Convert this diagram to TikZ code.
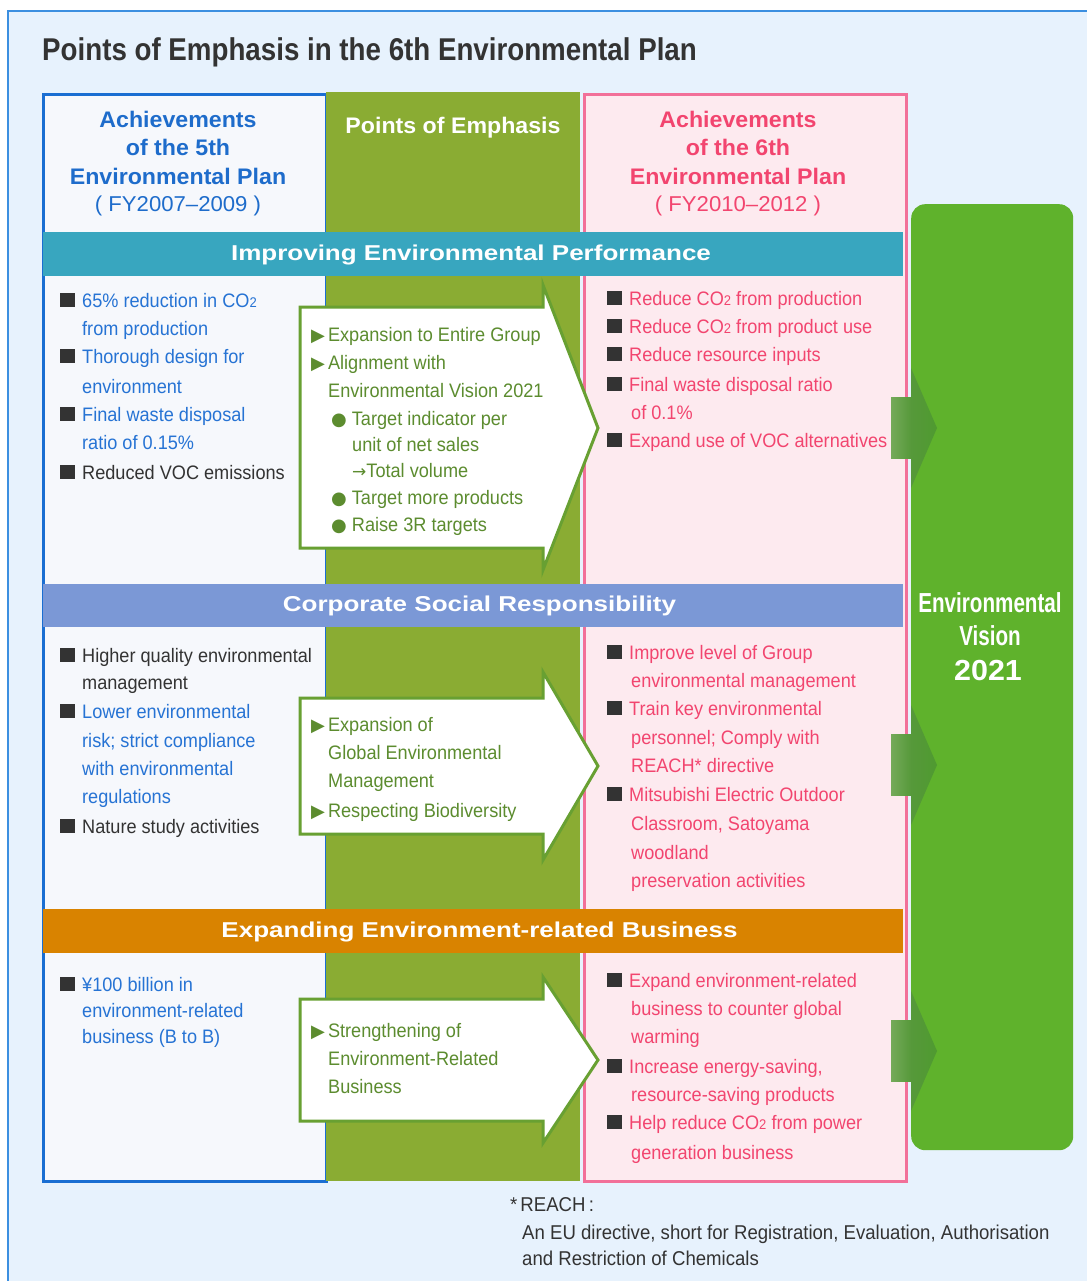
\documentclass[tikz,border=0pt]{standalone}
\usepackage{fontspec}
\setmainfont{Liberation Sans}
\newfontfamily\bod[FakeStretch=0.93]{Liberation Sans}
\newfontfamily\ttl[FakeStretch=0.88]{Liberation Sans}
\newfontfamily\hdf[FakeStretch=1.03]{Liberation Sans}
\newfontfamily\wde[FakeStretch=1.21]{Liberation Sans}
\newfontfamily\vis[FakeStretch=0.75]{Liberation Sans}
\newfontfamily\yr[FakeStretch=1.05]{Liberation Sans}
\newfontfamily\symf{DejaVu Sans}
\definecolor{bgblue}{HTML}{E7F2FD}
\definecolor{frameblue}{HTML}{3C8FE0}
\definecolor{blueB}{HTML}{1A6ED2}
\definecolor{blueT}{HTML}{2673D4}
\definecolor{blueH}{HTML}{1E6CCB}
\definecolor{leftF}{HTML}{F6F8FC}
\definecolor{midG}{HTML}{8AAC33}
\definecolor{pinkB}{HTML}{F27099}
\definecolor{pinkF}{HTML}{FDEAEF}
\definecolor{pinkT}{HTML}{F2456F}
\definecolor{tealB}{HTML}{38A6BF}
\definecolor{csrB}{HTML}{7B98D6}
\definecolor{orngB}{HTML}{D98300}
\definecolor{bigG}{HTML}{5FB22C}
\definecolor{arrB}{HTML}{68A032}
\definecolor{arrT}{HTML}{5C8C2F}
\definecolor{connL}{HTML}{74AA5A}
\definecolor{connR}{HTML}{56993A}
\definecolor{connH}{HTML}{4F9A30}
\definecolor{dark}{HTML}{333333}
\newcommand\sq{{\color{dark}\rule{14.5pt}{14.5pt}}\hspace{7.5pt}}
\newcommand\tri{{\symf\fontsize{18}{18}\selectfont\color{arrT}▶}\hspace{3pt}}
\newcommand\bul{{\symf\fontsize{18}{18}\selectfont ●}\hspace{5pt}}
\newcommand\two{{\fontsize{14}{14}\selectfont 2}}
\newcommand\rarr{{\symf\fontsize{17}{17}\selectfont →}}
\begin{document}
\begin{tikzpicture}[x=1pt,y=-1pt,
  txt/.style={anchor=base west, inner sep=0, font=\bod\fontsize{19.5}{19.5}\selectfont},
  hdr/.style={anchor=base, inner sep=0, font=\hdf\bfseries\fontsize{22.5}{22.5}\selectfont},
  hdrn/.style={anchor=base, inner sep=0, font=\hdf\fontsize{21.5}{21.5}\selectfont},
  band/.style={inner sep=0, font=\wde\bfseries\fontsize{21.5}{21.5}\selectfont, text=white},
  bigarrow/.style={draw=arrB, line width=3pt, fill=white, line join=miter},
  col/.style={anchor=north west, inner sep=0, line width=3pt}]
\useasboundingbox (0,0) rectangle (1086,1281);
\fill[white] (0,0) rectangle (1086,1281);
\draw[frameblue, line width=1.2pt, fill=bgblue] (8,11) rectangle (1095,1295);
% title
\node[anchor=base west, inner sep=0, font=\ttl\bfseries\fontsize{31.5}{31.5}\selectfont, text=dark] (title) at (42,61) {Points of Emphasis in the 6th Environmental Plan};
% columns
\node[col, draw=blueB, fill=leftF, minimum width=283pt, minimum height=1086pt] (c5) at (41.5,93.5) {};
\node[col, fill=midG, line width=0pt, minimum width=254pt, minimum height=1089pt] (cp) at (326,92) {};
\node[col, draw=pinkB, fill=pinkF, minimum width=322pt, minimum height=1086pt] (c6) at (582.5,93.5) {};
\node[anchor=north west, inner sep=0, fill=bigG, rounded corners=14pt, minimum width=162pt, minimum height=946pt] (vision) at (911,204) {};
% bands
\node[anchor=north west, inner sep=0, fill=tealB, minimum width=860pt, minimum height=44pt] (b1) at (43,232) {};
\node[anchor=north west, inner sep=0, fill=csrB, minimum width=860pt, minimum height=43pt] (b2) at (43,584) {};
\node[anchor=north west, inner sep=0, fill=orngB, minimum width=860pt, minimum height=44pt] (b3) at (43,909) {};
\node[band] (b1t) at (471,255) {Improving Environmental Performance};
\node[band] (b2t) at (479.5,606) {Corporate Social Responsibility};
\node[band] (b3t) at (479.5,932) {Expanding Environment-related Business};
% headers
\node[hdr, text=blueH] (h5a) at (178,128) {Achievements};
\node[hdr, text=blueH] (h5b) at (178,156) {of the 5th};
\node[hdr, text=blueH] (h5c) at (178,185) {Environmental Plan};
\node[hdrn, text=blueH] (h5d) at (178,212) {( FY2007–2009 )};
\node[hdr, text=white] (hp) at (453,134) {Points of Emphasis};
\node[hdr, text=pinkT] (h6a) at (738,128) {Achievements};
\node[hdr, text=pinkT] (h6b) at (738,156) {of the 6th};
\node[hdr, text=pinkT] (h6c) at (738,185) {Environmental Plan};
\node[hdrn, text=pinkT] (h6d) at (738,212) {( FY2010–2012 )};
% vision text
\node[anchor=base, inner sep=0, font=\vis\bfseries\fontsize{27.5}{27.5}\selectfont, text=white] (v1) at (990,612) {Environmental};
\node[anchor=base, inner sep=0, font=\vis\bfseries\fontsize{27.5}{27.5}\selectfont, text=white] (v2) at (990,645) {Vision};
\node[anchor=base, inner sep=0, font=\yr\bfseries\fontsize{29}{29}\selectfont, text=white] (v3) at (988,680) {2021};
% big white arrows
\draw[bigarrow] (300,307) -- (543,307) -- (543,285) -- (598,428) -- (543,570) -- (543,548) -- (300,548) -- cycle;
\draw[bigarrow] (300,698) -- (543,698) -- (543,672) -- (598,766) -- (543,860) -- (543,834) -- (300,834) -- cycle;
\draw[bigarrow] (300,999) -- (543,999) -- (543,977) -- (598,1060) -- (543,1143) -- (543,1121) -- (300,1121) -- cycle;
% connector arrows to vision
\foreach \yy/\nm in {428/k1,765/k2,1051/k3}{
  \coordinate (\nm) at (891,\yy);
  \shade[left color=connL, right color=connR] ([yshift=-30.5pt]\nm) rectangle ([xshift=20pt,yshift=30.5pt]\nm);
  \shade[left color=connR, right color=connH] ([xshift=20pt,yshift=-60pt]\nm) -- ([xshift=46pt]\nm) -- ([xshift=20pt,yshift=60pt]\nm) -- cycle;
}
% left column section 1
\foreach \x/\y/\c/\t [count=\i] in {
  60/307/blueT/{\sq 65\% reduction in CO\two},
  82/335/blueT/{from production},
  60/363/blueT/{\sq Thorough design for},
  82/393/blueT/{environment},
  60/421/blueT/{\sq Final waste disposal},
  82/449/blueT/{ratio of 0.15\%},
  60/479/dark/{\sq Reduced VOC emissions}}
  \node[txt, text=\c] (la\i) at (\x,\y) {\t};
% left column section 2
\foreach \x/\y/\c/\t [count=\i] in {
  60/662/dark/{\sq Higher quality environmental},
  82/689/dark/{management},
  60/718/blueT/{\sq Lower environmental},
  82/747/blueT/{risk; strict compliance},
  82/775/blueT/{with environmental},
  82/803/blueT/{regulations},
  60/833/dark/{\sq Nature study activities}}
  \node[txt, text=\c] (lb\i) at (\x,\y) {\t};
% left column section 3
\foreach \x/\y/\t [count=\i] in {
  60/991/{\sq ¥100 billion in},
  82/1017/{environment-related},
  82/1043/{business (B to B)}}
  \node[txt, text=blueT] (lc\i) at (\x,\y) {\t};
% arrow texts
\foreach \x/\y/\t [count=\i] in {
  311/341/{\tri Expansion to Entire Group},
  311/369/{\tri Alignment with},
  328/397/{Environmental Vision 2021},
  331/425/{\bul Target indicator per},
  352/451/{unit of net sales},
  352/477/{\rarr Total volume},
  331/504/{\bul Target more products},
  331/531/{\bul Raise 3R targets},
  311/731/{\tri Expansion of},
  328/759/{Global Environmental},
  328/787/{Management},
  311/817/{\tri Respecting Biodiversity},
  311/1037/{\tri Strengthening of},
  328/1065/{Environment-Related},
  328/1093/{Business}}
  \node[txt, text=arrT] (ap\i) at (\x,\y) {\t};
% right column
\foreach \x/\y/\t [count=\i] in {
  607/305/{\sq Reduce CO\two{} from production},
  607/333/{\sq Reduce CO\two{} from product use},
  607/361/{\sq Reduce resource inputs},
  607/391/{\sq Final waste disposal ratio},
  631/419/{of 0.1\%},
  607/447/{\sq Expand use of VOC alternatives},
  607/659/{\sq Improve level of Group},
  631/687/{environmental management},
  607/715/{\sq Train key environmental},
  631/744/{personnel; Comply with},
  631/772/{REACH* directive},
  607/801/{\sq Mitsubishi Electric Outdoor},
  631/830/{Classroom, Satoyama},
  631/859/{woodland},
  631/887/{preservation activities},
  607/987/{\sq Expand environment-related},
  631/1015/{business to counter global},
  631/1043/{warming},
  607/1073/{\sq Increase energy-saving,},
  631/1101/{resource-saving products},
  607/1129/{\sq Help reduce CO\two{} from power},
  631/1159/{generation business}}
  \node[txt, text=pinkT] (r\i) at (\x,\y) {\t};
% footnote
\node[txt, font=\bod\fontsize{20}{20}\selectfont, text=dark] (fn1) at (510,1211) {*\hspace{3pt}REACH\,:};
\node[txt, font=\bod\fontsize{20}{20}\selectfont, text=dark] (fn2) at (522,1239) {An EU directive, short for Registration, Evaluation, Authorisation};
\node[txt, font=\bod\fontsize{20}{20}\selectfont, text=dark] (fn3) at (522,1265) {and Restriction of Chemicals};
\end{tikzpicture}
\end{document}
